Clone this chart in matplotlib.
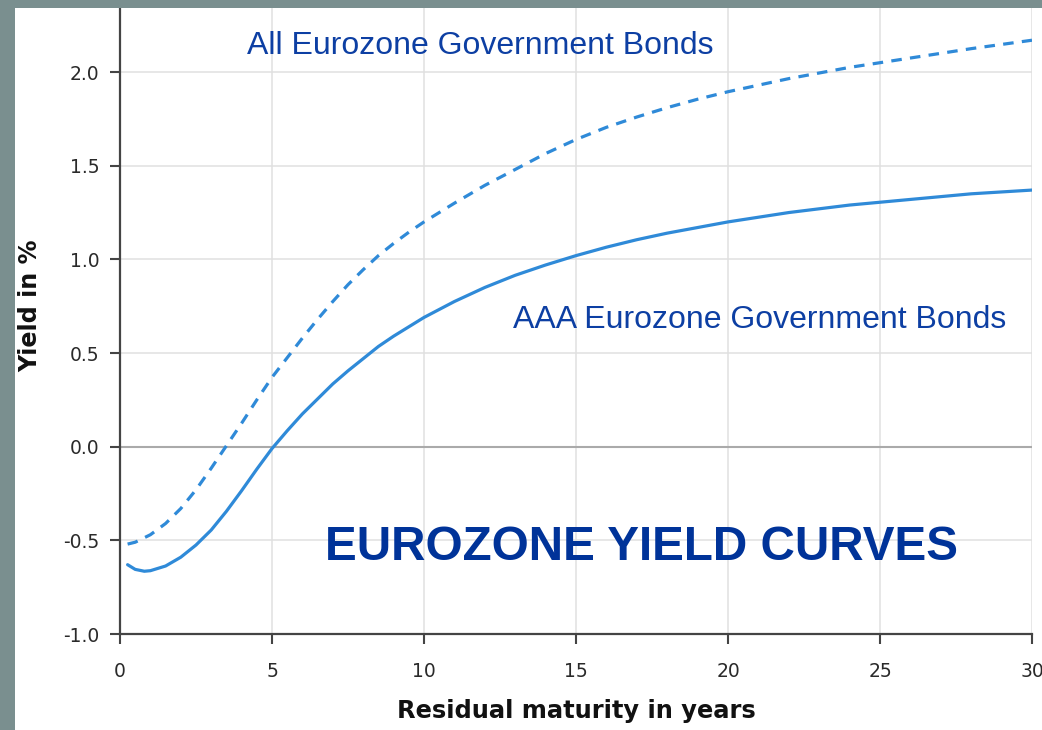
import matplotlib
matplotlib.use("Agg")
import matplotlib.pyplot as plt
from matplotlib.patches import Rectangle

# Data
maturity_all = [0.25, 0.5, 1, 1.5, 2, 2.5, 3, 3.5, 4, 4.5, 5, 5.5, 6, 6.5, 7, 7.5, 8, 8.5, 9, 9.5,
                10, 11, 12, 13, 14, 15, 16, 17, 18, 19, 20, 22, 24, 26, 28, 30]
yield_all = [-0.52, -0.51, -0.47, -0.41, -0.33, -0.23, -0.115, 0.005, 0.125, 0.25, 0.37, 0.475,
             0.58, 0.68, 0.775, 0.865, 0.945, 1.02, 1.085, 1.145, 1.2, 1.30, 1.395, 1.48, 1.565,
             1.64, 1.705, 1.76, 1.81, 1.855, 1.895, 1.965, 2.025, 2.075, 2.125, 2.17]

maturity_aaa = [0.25, 0.5, 0.8, 1, 1.5, 2, 2.5, 3, 3.5, 4, 4.5, 5, 5.5, 6, 6.5, 7, 7.5, 8, 8.5, 9,
                9.5, 10, 11, 12, 13, 14, 15, 16, 17, 18, 19, 20, 22, 24, 26, 28, 30]
yield_aaa = [-0.63, -0.655, -0.665, -0.662, -0.637, -0.59, -0.525, -0.445, -0.345, -0.235, -0.12,
             -0.01, 0.085, 0.175, 0.255, 0.335, 0.405, 0.47, 0.535, 0.59, 0.64, 0.69, 0.775, 0.85,
             0.915, 0.97, 1.02, 1.065, 1.105, 1.14, 1.17, 1.2, 1.25, 1.29, 1.32, 1.35, 1.37]

x_ticks = [0, 5, 10, 15, 20, 25, 30]
y_ticks = [-1.0, -0.5, 0.0, 0.5, 1.0, 1.5, 2.0]
y_ticklabels = ["-1.0", "-0.5", "0.0", "0.5", "1.0", "1.5", "2.0"]

label_all = "All Eurozone Government Bonds"
label_aaa = "AAA Eurozone Government Bonds"
title = "EUROZONE YIELD CURVES"
xlabel = "Residual maturity in years"
ylabel = "Yield in %"

W, H = 1042, 730
fig = plt.figure(figsize=(W / 100, H / 100), dpi=100)
fig.patch.set_facecolor("white")

ax = fig.add_axes([120 / W, 96 / H, (1032 - 120) / W, (722 - 96) / H])
ax.set_xlim(0, 30)
ax.set_ylim(-1.0, 2.342)

line_color = "#2f8ad8"
text_blue = "#0d3fa3"

ax.set_xticks(x_ticks)
ax.set_yticks(y_ticks)
ax.set_yticklabels(y_ticklabels)
ax.grid(True, color="#e0e0e0", linewidth=1.1, zorder=0)
ax.set_axisbelow(True)
ax.axhline(0.0, color="#aaaaaa", linewidth=1.5, zorder=1)

for s in ["top", "right"]:
    ax.spines[s].set_visible(False)
for s in ["left", "bottom"]:
    ax.spines[s].set_color("#444444")
    ax.spines[s].set_linewidth(1.6)

ax.tick_params(axis="both", direction="out", length=7, width=1.5, color="#444444",
               labelcolor="#2a2a2a", labelsize=13.5)
ax.tick_params(axis="x", pad=13)
ax.tick_params(axis="y", pad=8)

l1, = ax.plot(maturity_all, yield_all, color=line_color, linewidth=2.3, zorder=3)
l1.set_dashes([3.3, 2.6])
ax.plot(maturity_aaa, yield_aaa, color=line_color, linewidth=2.3, zorder=3,
        solid_capstyle="round", solid_joinstyle="round")

ax.text(4.18, 2.098, label_all, color=text_blue, fontsize=23, family="Liberation Sans",
        ha="left", va="baseline")
ax.text(12.93, 0.635, label_aaa, color=text_blue, fontsize=23, family="Liberation Sans",
        ha="left", va="baseline")
ax.text(6.74, -0.603, title, color="#003399", fontsize=34.3, fontweight="bold",
        family="Liberation Sans", ha="left", va="baseline")

fig.text(576 / W, 12 / H, xlabel, ha="center", va="baseline", fontsize=17.4,
         fontweight="bold", color="#111111")
fig.text(30 / W, 1 - 306 / H, ylabel, ha="center", va="center", rotation=90,
         fontsize=17.2, fontweight="bold", color="#111111")

border = "#7a8f8f"
fig.patches.append(Rectangle((0, 0), 15 / W, 1, transform=fig.transFigure,
                             facecolor=border, edgecolor="none", zorder=10))
fig.patches.append(Rectangle((0, 1 - 8 / H), 1, 8 / H, transform=fig.transFigure,
                             facecolor=border, edgecolor="none", zorder=10))

fig.savefig("out.png", dpi=100)
